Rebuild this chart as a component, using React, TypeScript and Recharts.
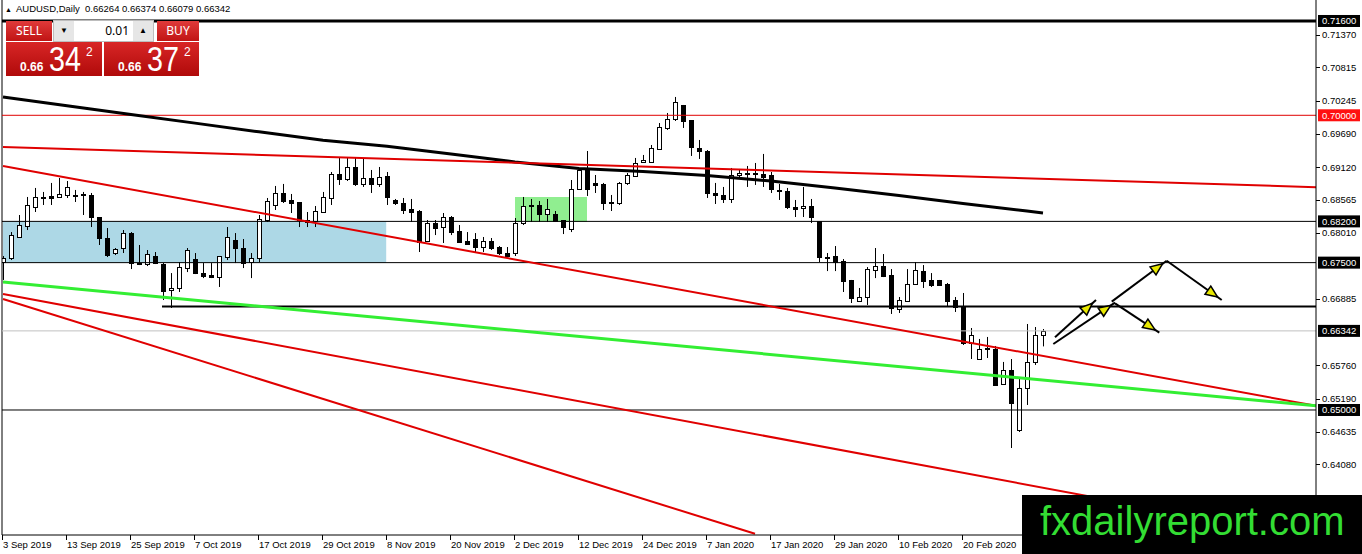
import React from 'react';
import { Bar, ComposedChart, Line, ReferenceArea, ReferenceLine, XAxis, YAxis } from 'recharts';

// daily candles, index 0 = 3 Sep 2019
const OPEN = [
  0.6751, 0.67578, 0.67935, 0.68121, 0.68444, 0.68597, 0.68631, 0.68614, 0.68648, 0.68648,
  0.68665, 0.68648, 0.68274, 0.67918, 0.67663, 0.67748, 0.68002, 0.67493, 0.67476, 0.67612,
  0.67476, 0.67036, 0.6707, 0.67408, 0.67561, 0.67323, 0.67289, 0.67255, 0.67595, 0.67884,
  0.67748, 0.6751, 0.67578, 0.68223, 0.68478, 0.68682, 0.68563, 0.68529, 0.68223, 0.68206,
  0.68359, 0.68597, 0.69004, 0.68919, 0.69123, 0.68835, 0.68936, 0.68835, 0.6897, 0.68563,
  0.68512, 0.6841, 0.68376, 0.67867, 0.68172, 0.68104, 0.68274, 0.68036, 0.67867, 0.67901,
  0.67765, 0.67867, 0.67765, 0.67663, 0.67663, 0.68172, 0.68461, 0.68478, 0.68325, 0.68325,
  0.68223, 0.6807, 0.6875, 0.69072, 0.68852, 0.68835, 0.68529, 0.68512, 0.68852, 0.6897,
  0.69208, 0.69208, 0.69428, 0.69785, 0.69937, 0.70175, 0.6992, 0.69445, 0.69394, 0.68682,
  0.68648, 0.6858, 0.68987, 0.69021, 0.69004, 0.69004, 0.68987, 0.68733, 0.68716, 0.68444,
  0.68427, 0.68461, 0.68206, 0.67595, 0.67612, 0.67527, 0.67206, 0.66849, 0.66917, 0.67374,
  0.67442, 0.67289, 0.66714, 0.66849, 0.67138, 0.67357, 0.67206, 0.67206, 0.67138, 0.66866,
  0.66748, 0.66137, 0.65865, 0.66052, 0.66035, 0.65441, 0.65679, 0.64661, 0.65373, 0.65815,
  0.66264,
];
const HIGH = [
  0.67612, 0.68019, 0.68308, 0.68614, 0.68767, 0.68699, 0.68852, 0.68936, 0.68885, 0.68733,
  0.68699, 0.68682, 0.68274, 0.68087, 0.67748, 0.68053, 0.68019, 0.67799, 0.67714, 0.6768,
  0.67493, 0.67323, 0.6751, 0.67748, 0.67663, 0.67493, 0.67493, 0.67612, 0.68104, 0.68002,
  0.67901, 0.67663, 0.68308, 0.68597, 0.68801, 0.68835, 0.68665, 0.68529, 0.68359, 0.68461,
  0.68699, 0.69038, 0.69276, 0.69276, 0.69276, 0.69276, 0.69072, 0.69123, 0.69038, 0.6858,
  0.68597, 0.6858, 0.68393, 0.68223, 0.68223, 0.68342, 0.68291, 0.68138, 0.68019, 0.68002,
  0.67935, 0.67918, 0.67782, 0.67765, 0.68257, 0.68614, 0.6858, 0.68546, 0.6858, 0.68376,
  0.68223, 0.68902, 0.69106, 0.69394, 0.68987, 0.68852, 0.68648, 0.68868, 0.69021, 0.69276,
  0.69327, 0.69496, 0.69869, 0.70039, 0.70311, 0.70175, 0.6992, 0.69581, 0.69411, 0.68852,
  0.68784, 0.69106, 0.69089, 0.6914, 0.69191, 0.69344, 0.69038, 0.68835, 0.68767, 0.68563,
  0.68784, 0.6858, 0.68206, 0.67663, 0.67782, 0.67561, 0.67206, 0.6707, 0.67425, 0.67748,
  0.67646, 0.67391, 0.66917, 0.67391, 0.6751, 0.67459, 0.67323, 0.67206, 0.67155, 0.66917,
  0.66985, 0.66391, 0.66205, 0.66239, 0.66086, 0.65815, 0.65865, 0.65543, 0.66459, 0.66408,
  0.66374,
];
const LOW = [
  0.67206, 0.67544, 0.67918, 0.68053, 0.68359, 0.68478, 0.68478, 0.68614, 0.68597, 0.68529,
  0.68308, 0.68104, 0.67799, 0.67595, 0.67629, 0.67663, 0.67391, 0.67459, 0.67442, 0.67476,
  0.66866, 0.66731, 0.67002, 0.6734, 0.67306, 0.67238, 0.67238, 0.67087, 0.67544, 0.67493,
  0.67408, 0.67238, 0.6751, 0.68189, 0.68393, 0.68512, 0.68342, 0.68104, 0.68104, 0.68104,
  0.68342, 0.68478, 0.68818, 0.68885, 0.68801, 0.68784, 0.68682, 0.68784, 0.68478, 0.68478,
  0.68325, 0.68189, 0.6768, 0.6785, 0.67968, 0.67833, 0.67968, 0.67833, 0.67799, 0.6768,
  0.6768, 0.67714, 0.67629, 0.67595, 0.67612, 0.68138, 0.68189, 0.68189, 0.68189, 0.68189,
  0.67985, 0.68019, 0.68733, 0.68631, 0.68682, 0.68393, 0.68376, 0.68478, 0.68818, 0.68953,
  0.69191, 0.69191, 0.69411, 0.69751, 0.69903, 0.69785, 0.6931, 0.69259, 0.68597, 0.68495,
  0.68512, 0.68512, 0.68953, 0.68784, 0.68818, 0.68784, 0.68682, 0.68563, 0.6841, 0.68274,
  0.68274, 0.68172, 0.6751, 0.67357, 0.67357, 0.67002, 0.66815, 0.66832, 0.66782, 0.67238,
  0.67255, 0.66629, 0.66646, 0.66832, 0.67121, 0.6707, 0.67087, 0.67104, 0.66748, 0.66663,
  0.66103, 0.65865, 0.65848, 0.65882, 0.65424, 0.65424, 0.64355, 0.64627, 0.65085, 0.65764,
  0.66079,
];
const CLOSE = [
  0.67578, 0.67968, 0.68138, 0.68478, 0.68614, 0.68614, 0.68597, 0.68665, 0.68784, 0.68631,
  0.68648, 0.68274, 0.67918, 0.67629, 0.67731, 0.68002, 0.67493, 0.67476, 0.67646, 0.67493,
  0.67019, 0.6707, 0.67425, 0.67714, 0.67323, 0.67272, 0.67255, 0.67612, 0.67935, 0.67748,
  0.67493, 0.67578, 0.6824, 0.68546, 0.68682, 0.68546, 0.68512, 0.68223, 0.68189, 0.68376,
  0.68614, 0.69004, 0.68919, 0.69123, 0.68835, 0.68936, 0.68835, 0.68953, 0.68614, 0.68512,
  0.68393, 0.68359, 0.6785, 0.68172, 0.68087, 0.68274, 0.68019, 0.6785, 0.67816, 0.67765,
  0.67867, 0.67748, 0.67663, 0.67612, 0.68172, 0.68461, 0.68478, 0.68325, 0.6841, 0.68206,
  0.68104, 0.6875, 0.69072, 0.6875, 0.68818, 0.68512, 0.68512, 0.68852, 0.68987, 0.69191,
  0.69242, 0.69445, 0.69802, 0.69937, 0.70226, 0.69903, 0.69462, 0.69394, 0.68682, 0.68648,
  0.6858, 0.68987, 0.69021, 0.69004, 0.69021, 0.68953, 0.6875, 0.68716, 0.68444, 0.6841,
  0.68461, 0.68274, 0.67595, 0.67578, 0.6751, 0.67189, 0.669, 0.66917, 0.67391, 0.67442,
  0.67272, 0.66731, 0.66866, 0.67138, 0.67374, 0.67189, 0.67121, 0.67121, 0.66849, 0.66748,
  0.66137, 0.66273, 0.66035, 0.66035, 0.65424, 0.65679, 0.65119, 0.65373, 0.65815, 0.66273,
  0.66342,
];

// thick black moving average, read at every 8th bar
const MA_INDEX = [0, 8, 16, 24, 32, 40, 48, 56, 64, 72, 80, 88, 96, 104, 112, 120, 128, 130];
const MA_VALUE = [
  0.70311, 0.70163, 0.70015, 0.69867, 0.69719, 0.69578, 0.69475, 0.69344, 0.69208,
  0.69098, 0.69047, 0.68979, 0.68885, 0.68767, 0.6864, 0.68504, 0.68376, 0.68342,
];

const DATE_INDEX = [0, 8, 16, 24, 32, 40, 48, 56, 64, 72, 80, 88, 96, 104, 112, 120];
const DATE_LABELS = [
  '3 Sep 2019', '13 Sep 2019', '25 Sep 2019', '7 Oct 2019', '17 Oct 2019', '29 Oct 2019',
  '8 Nov 2019', '20 Nov 2019', '2 Dec 2019', '12 Dec 2019', '24 Dec 2019', '7 Jan 2020',
  '17 Jan 2020', '29 Jan 2020', '10 Feb 2020', '20 Feb 2020',
];

const PRICE_TICKS = [
  0.7137, 0.70815, 0.70245, 0.6969, 0.6912, 0.68565, 0.6801, 0.66885,
  0.6576, 0.6519, 0.64635, 0.6408, 0.63515,
];
const LEVELS = [0.716, 0.7, 0.682, 0.675, 0.65];
const BID = 0.66342;
const SUPPORT = 0.66756;

// drawn objects: [startIndex, startPrice, endIndex, endPrice]
const RED_LINES = [
  [0, 0.6946, 164.125, 0.6878],
  [0, 0.6914, 164.125, 0.6507],
  [0, 0.66968, 160.9, 0.629],
  [0, 0.66883, 94, 0.629],
];
const GREEN_LINE = [0, 0.6717, 164.125, 0.6507];
const ARROWS = [
  [131.5, 0.66233, 136.625, 0.66866],
  [131.29, 0.6612, 139.0, 0.66821],
  [138.59, 0.66838, 145.46, 0.67533],
  [145.46, 0.67533, 152.34, 0.66866],
  [139.0, 0.6681, 144.54, 0.66312],
];

const X_MIN = -0.125;
const X_MAX = 164.125;
const Y_MIN = 0.62879;
const Y_MAX = 0.71956;
const FONT = '"Liberation Sans", Arial, sans-serif';

const data = OPEN.map((o, i) => ({
  i,
  o,
  h: HIGH[i],
  l: LOW[i],
  c: CLOSE[i],
  range: [LOW[i], HIGH[i]],
  ma: MA_INDEX.includes(i) ? MA_VALUE[MA_INDEX.indexOf(i)] : undefined,
}));

function Candle(props: any) {
  const { x, y, width, height, payload } = props;
  if (!payload || height == null) return null;
  const { o, h, l, c } = payload;
  const k = height / (h - l);
  const cx = Math.round(x + width / 2);
  const top = Math.round(y + (h - Math.max(o, c)) * k);
  const bot = Math.round(y + (h - Math.min(o, c)) * k);
  return (
    <g>
      <line x1={cx + 0.5} x2={cx + 0.5} y1={y} y2={y + height} stroke="#000" />
      <rect
        x={cx - 1.5}
        y={top + 0.5}
        width={4}
        height={Math.max(1, bot - top)}
        fill={c >= o ? '#fff' : '#000'}
        stroke="#000"
      />
    </g>
  );
}

function PriceTick(props: any) {
  const { x, y, payload } = props;
  const v = Number(payload.value);
  const boxed = [...LEVELS, BID].some((b) => Math.abs(b - v) < 1e-7);
  const red = Math.abs(v - 0.7) < 1e-7;
  return (
    <g>
      {boxed ? (
        <rect x={x + 2} y={y - 6} width={42} height={12} fill={red ? '#ff1010' : '#000'} />
      ) : (
        <line x1={x} x2={x + 4} y1={Math.round(y) + 0.5} y2={Math.round(y) + 0.5} stroke="#000" />
      )}
      <text x={x + 6} y={y + 3.5} fontSize={9.5} fontFamily={FONT} fill={boxed ? '#fff' : '#000'}>
        {v.toFixed(5)}
      </text>
    </g>
  );
}

function DateTick(props: any) {
  const { x, y, payload } = props;
  const label = DATE_LABELS[DATE_INDEX.indexOf(payload.value)];
  const px = Math.round(x) - 0.5;
  return (
    <g>
      <line x1={px} x2={px} y1={y} y2={y + 5} stroke="#000" />
      <text x={x} y={y + 13} fontSize={9.5} fontFamily={FONT} fill="#000">
        {label}
      </text>
    </g>
  );
}

function ArrowShape(props: any) {
  const { x1, y1, x2, y2 } = props;
  const len = Math.hypot(x2 - x1, y2 - y1) || 1;
  const ux = (x2 - x1) / len;
  const uy = (y2 - y1) / len;
  const tx = x2 - ux * 5;
  const ty = y2 - uy * 5;
  const bx = tx - ux * 12;
  const by = ty - uy * 12;
  const pts = `${tx},${ty} ${bx - uy * 5},${by + ux * 5} ${bx + uy * 5},${by - ux * 5}`;
  return (
    <g>
      <line x1={x1} y1={y1} x2={x2} y2={y2} stroke="#000" strokeWidth={2} />
      <polygon points={pts} fill="#e8e800" stroke="#000" strokeWidth={1.5} />
    </g>
  );
}

const btn: React.CSSProperties = {
  position: 'absolute',
  color: '#fff',
  fontFamily: '"Noto Sans", sans-serif',
  fontSize: 12,
  textAlign: 'center',
  background: 'linear-gradient(#e03a3a, #c01414)',
};

function PriceBox({ left, width, big }: { left: number; width: number; big: string }) {
  return (
    <div
      style={{
        position: 'absolute',
        left,
        top: 42,
        width,
        height: 34,
        background: 'linear-gradient(#d82626, #b00a0a)',
        color: '#fff',
        fontFamily: FONT,
      }}
    >
      <span style={{ position: 'absolute', left: 14, top: 19, fontSize: 12, lineHeight: '12px', fontWeight: 700 }}>0.66</span>
      <span
        style={{
          position: 'absolute',
          left: 43,
          top: 0,
          fontSize: 35,
          lineHeight: '34px',
          transform: 'scaleX(0.82)',
          transformOrigin: 'left',
        }}
      >
        {big}
      </span>
      <span style={{ position: 'absolute', left: 80, top: 4, fontSize: 12, lineHeight: '12px' }}>2</span>
    </div>
  );
}

export default function App() {
  return (
    <div style={{ position: 'relative', width: 1362, height: 554, background: '#fff' }}>
      <style>{'body{margin:0}'}</style>
      <ComposedChart width={1362} height={554} data={data} margin={{ top: 0, right: 0, bottom: 0, left: 2 }}>
        <XAxis
          type="number"
          dataKey="i"
          domain={[X_MIN, X_MAX]}
          allowDataOverflow
          ticks={DATE_INDEX}
          interval={0}
          tick={<DateTick />}
          tickLine={false}
          tickSize={0}
          tickMargin={0}
          height={19}
          axisLine={{ stroke: '#000' }}
        />
        <YAxis
          orientation="right"
          type="number"
          domain={[Y_MIN, Y_MAX]}
          allowDataOverflow
          ticks={[...PRICE_TICKS, ...LEVELS, BID]}
          interval={0}
          tick={<PriceTick />}
          tickLine={false}
          tickSize={0}
          tickMargin={0}
          width={46}
          axisLine={{ stroke: '#000' }}
        />
        <ReferenceArea x1={0} x2={47.9} y1={0.675} y2={0.682} fill="#add8e6" fillOpacity={1} stroke="none" ifOverflow="hidden" />
        <ReferenceArea x1={64} x2={73} y1={0.6819} y2={0.68614} fill="#90ee90" fillOpacity={1} stroke="none" ifOverflow="hidden" />
        <ReferenceLine x={X_MIN} stroke="#000" />
        <ReferenceLine y={BID} stroke="#c0c0c0" />
        <ReferenceLine y={0.716} stroke="#000" strokeWidth={3} />
        <ReferenceLine y={0.7} stroke="#e00000" />
        <ReferenceLine y={0.682} stroke="#000" />
        <ReferenceLine y={0.675} stroke="#000" />
        <ReferenceLine y={0.65} stroke="#000" />
        <ReferenceLine
          segment={[{ x: 19.875, y: SUPPORT }, { x: X_MAX, y: SUPPORT }]}
          stroke="#000"
          strokeWidth={2}
          ifOverflow="hidden"
        />
        <Bar dataKey="range" barSize={5} shape={(p: any) => <Candle {...p} />} isAnimationActive={false} />
        <Line
          dataKey="ma"
          type="linear"
          stroke="#000"
          strokeWidth={3}
          dot={false}
          activeDot={false}
          connectNulls
          isAnimationActive={false}
        />
        {RED_LINES.map((s, k) => (
          <ReferenceLine
            key={`r${k}`}
            segment={[{ x: s[0], y: s[1] }, { x: s[2], y: s[3] }]}
            stroke="#e00000"
            strokeWidth={2}
            ifOverflow="hidden"
          />
        ))}
        <ReferenceLine
          segment={[{ x: GREEN_LINE[0], y: GREEN_LINE[1] }, { x: GREEN_LINE[2], y: GREEN_LINE[3] }]}
          stroke="#33ee33"
          strokeWidth={3}
          ifOverflow="hidden"
        />
        {ARROWS.map((s, k) => (
          <ReferenceLine
            key={`a${k}`}
            segment={[{ x: s[0], y: s[1] }, { x: s[2], y: s[3] }]}
            shape={(p: any) => <ArrowShape {...p} />}
            ifOverflow="hidden"
          />
        ))}
      </ComposedChart>

      <div style={{ position: 'absolute', left: 5, top: 3, fontFamily: FONT, fontSize: 9.5, lineHeight: '12px', color: '#000' }}>
        <span style={{ fontSize: 7, marginRight: 4 }}>▲</span>
        AUDUSD,Daily&nbsp;&nbsp;0.66264 0.66374 0.66079 0.66342
      </div>

      <div style={{ ...btn, left: 6, top: 21, width: 46, height: 20, lineHeight: '20px' }}>SELL</div>
      <div style={{ position: 'absolute', left: 53, top: 20, width: 99, height: 20, border: '1px solid #bdbdbd', background: '#fff' }}>
        <div style={{ position: 'absolute', left: 0, top: 0, width: 20, height: 20, background: '#e6e6e6', fontSize: 8, lineHeight: '20px', textAlign: 'center' }}>▼</div>
        <div style={{ position: 'absolute', right: 24, top: 0, fontFamily: '"Noto Sans", sans-serif', fontSize: 12, lineHeight: '20px' }}>0.01</div>
        <div style={{ position: 'absolute', right: 0, top: 0, width: 20, height: 20, background: '#e6e6e6', fontSize: 8, lineHeight: '20px', textAlign: 'center' }}>▲</div>
      </div>
      <div style={{ ...btn, left: 157, top: 21, width: 42, height: 20, lineHeight: '20px' }}>BUY</div>
      <PriceBox left={6} width={96} big="34" />
      <PriceBox left={104} width={95} big="37" />

      <div style={{ position: 'absolute', left: 1022, top: 495, width: 340, height: 59, background: '#000' }}>
        <span
          style={{
            position: 'absolute',
            left: 18,
            top: 6,
            fontFamily: FONT,
            fontSize: 40,
            lineHeight: '40px',
            color: '#33dd33',
            whiteSpace: 'nowrap',
          }}
        >
          fxdailyreport.com
        </span>
      </div>
    </div>
  );
}
